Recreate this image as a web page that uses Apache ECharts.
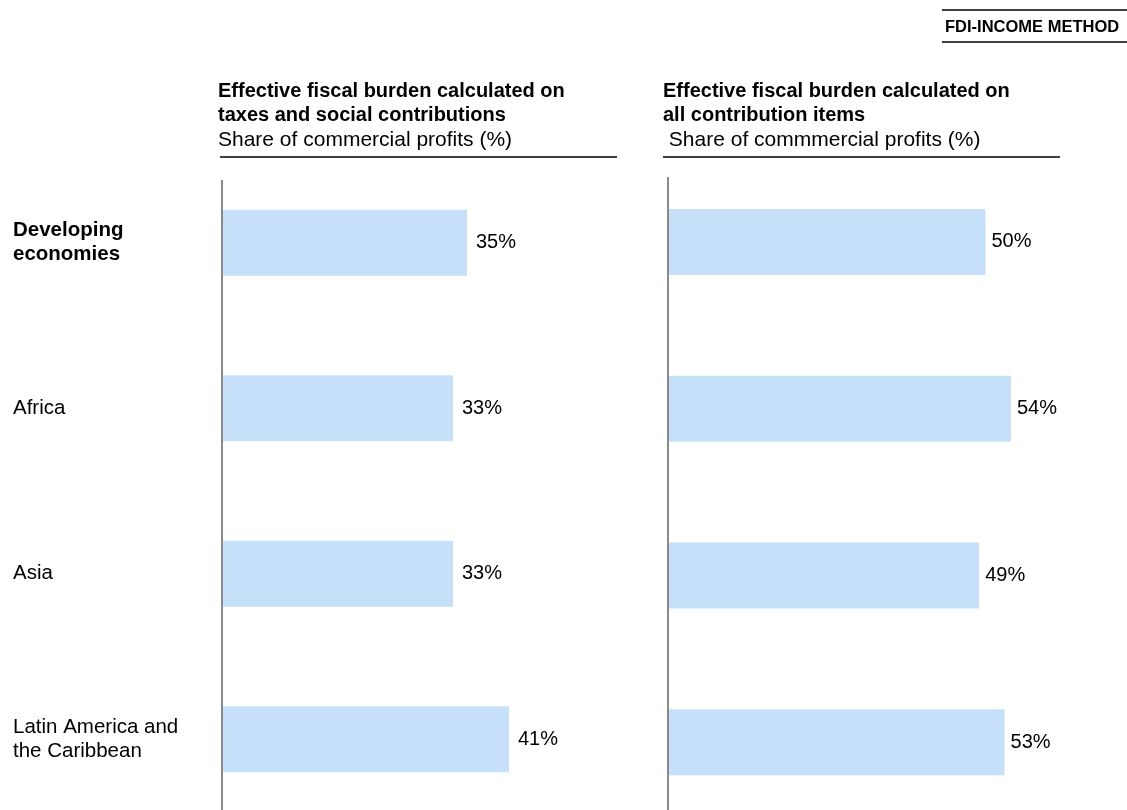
<!DOCTYPE html>
<html>
<head>
<meta charset="utf-8">
<title>Effective fiscal burden</title>
<script src="https://cdn.jsdelivr.net/npm/echarts@6/dist/echarts.min.js"></script>
<style>
  html, body { margin: 0; padding: 0; background: #fff; }
  #chart { width: 1127px; height: 810px; }
</style>
</head>
<body>
<div id="chart"></div>
<script>
// data
const regions = ['Developing economies', 'Africa', 'Asia', 'Latin America and the Caribbean']
const taxesShare = [35, 33, 33, 41]      // taxes and social contributions
const allItemsShare = [50, 54, 49, 53]   // all contribution items

const FONT = '"Liberation Sans", Arial, sans-serif'
const INK = '#000'
const BAR = '#c6e0fa'
const AXIS_GREY = '#8a8a8a'

// wrap category names at ~18 chars, first row in bold
const wrap = (text, maxLen) => {
  const lines = []
  let line = ''
  text.split(' ').forEach(w => {
    const next = line ? line + ' ' + w : w
    if (next.length > maxLen && line) {
      lines.push(line)
      line = w
    } else {
      line = next
    }
  })
  lines.push(line)
  return lines.join('\n')
}

const barLabel = (dist) => ({
  show: true,
  position: 'right',
  distance: dist,
  formatter: '{c}%',
  color: INK,
  fontSize: 20,
  fontFamily: FONT
})

const hLine = (x1, x2, y) => ({
  type: 'line',
  shape: { x1: x1, y1: y, x2: x2, y2: y },
  style: { stroke: INK, lineWidth: 1.5 },
  silent: true
})
// vertical rule standing in for each panel's category axis
const vLine = (x, y1, y2) => ({
  type: 'line',
  z: 10,
  shape: { x1: x, y1: y1, x2: x, y2: y2 },
  style: { stroke: AXIS_GREY, lineWidth: 2 },
  silent: true
})

const chart = echarts.init(document.getElementById('chart'))

const option = {
  animation: false,
  textStyle: { fontFamily: FONT },
  title: [
    {
      left: 945, top: 19, padding: 0,
      text: 'FDI-INCOME METHOD',
      textStyle: { fontSize: 16.5, fontWeight: 'bold', lineHeight: 16, color: INK, fontFamily: FONT }
    },
    {
      left: 218, top: 79, padding: 0, itemGap: 1,
      text: 'Effective fiscal burden calculated on\ntaxes and social contributions',
      textStyle: { fontSize: 20, fontWeight: 'bold', lineHeight: 24, color: INK, fontFamily: FONT },
      subtext: 'Share of commercial profits (%)',
      subtextStyle: { fontSize: 21, lineHeight: 24, color: INK, fontFamily: FONT }
    },
    {
      left: 663, top: 79, padding: 0, itemGap: 1,
      text: 'Effective fiscal burden calculated on\nall contribution items',
      textStyle: { fontSize: 20, fontWeight: 'bold', lineHeight: 24, color: INK, fontFamily: FONT },
      subtext: ' Share of commmercial profits (%)',
      subtextStyle: { fontSize: 21, lineHeight: 24, color: INK, fontFamily: FONT }
    }
  ],
  grid: [
    { left: 222, top: 160, width: 420, height: 662, outerBoundsMode: 'none' },
    { left: 668, top: 158.5, width: 381, height: 667, outerBoundsMode: 'none' }
  ],
  xAxis: [
    { gridIndex: 0, type: 'value', min: 0, max: 60, show: false },
    { gridIndex: 1, type: 'value', min: 0, max: 60, show: false }
  ],
  yAxis: [
    {
      gridIndex: 0,
      type: 'category',
      data: regions,
      inverse: true,
      axisLine: { show: false },
      axisTick: { show: false },
      axisLabel: {
        align: 'left',
        margin: 209,
        fontSize: 20.5,
        lineHeight: 24,
        color: INK,
        fontFamily: FONT,
        formatter: (v, i) => {
          const t = wrap(v, 18)
          return i === 0 ? '{b|' + t + '}' : t
        },
        rich: {
          b: { fontWeight: 'bold', fontSize: 20.5, lineHeight: 24, color: INK, fontFamily: FONT }
        }
      }
    },
    {
      gridIndex: 1,
      type: 'category',
      data: regions,
      inverse: true,
      axisLine: { show: false },
      axisTick: { show: false },
      axisLabel: { show: false }
    }
  ],
  series: [
    {
      name: 'Taxes and social contributions',
      type: 'bar',
      xAxisIndex: 0,
      yAxisIndex: 0,
      data: taxesShare,
      barWidth: 66,
      itemStyle: { color: BAR },
      label: barLabel(9)
    },
    {
      name: 'All contribution items',
      type: 'bar',
      xAxisIndex: 1,
      yAxisIndex: 1,
      data: allItemsShare,
      barWidth: 66,
      itemStyle: { color: BAR },
      label: barLabel(6)
    }
  ],
  graphic: [
    hLine(942, 1127, 10),
    hLine(942, 1127, 42),
    hLine(220, 617, 157),
    hLine(663, 1060, 157),
    vLine(222, 180, 810),
    vLine(668, 177, 810)
  ]
}

chart.setOption(option)
window.addEventListener('resize', () => chart.resize())
</script>
</body>
</html>
